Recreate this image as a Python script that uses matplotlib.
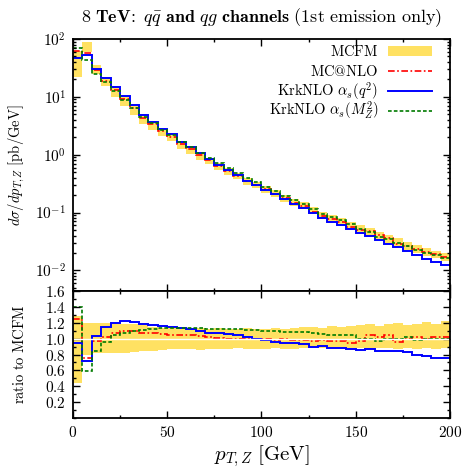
import numpy as np
import matplotlib
matplotlib.use("Agg")
import matplotlib.pyplot as plt
from matplotlib.ticker import FixedLocator, FixedFormatter, MultipleLocator, LogLocator, NullFormatter
from matplotlib.patches import Rectangle
from matplotlib.lines import Line2D

plt.rcParams['mathtext.fontset'] = 'cm'
plt.rcParams['font.family'] = ['DejaVu Serif']

# ---------------- data ----------------
bin_edges = np.arange(0, 205, 5)

mcfm = [49.4, 74.0, 29.7, 18.7, 12.1, 8.4, 5.9, 4.1, 3.15, 2.4,
        1.95, 1.46, 1.20, 0.96, 0.79, 0.63, 0.52, 0.43, 0.35, 0.30,
        0.253, 0.215, 0.177, 0.151, 0.131, 0.107, 0.0896, 0.079, 0.070, 0.060,
        0.052, 0.0455, 0.0396, 0.0344, 0.0299, 0.026, 0.0231, 0.0205, 0.0185, 0.0164]

mcfm_lo = [0.44, 0.80, 0.82, 0.82, 0.82, 0.82, 0.83, 0.84, 0.85, 0.86,
           0.87, 0.87, 0.87, 0.86, 0.87, 0.87, 0.87, 0.88, 0.87, 0.87,
           0.87, 0.88, 0.87, 0.87, 0.88, 0.88, 0.88, 0.87, 0.88, 0.88,
           0.88, 0.87, 0.88, 0.88, 0.87, 0.88, 0.87, 0.88, 0.87, 0.88]
mcfm_hi = [1.28, 1.20, 1.20, 1.20, 1.19, 1.19, 1.18, 1.17, 1.15, 1.14,
           1.13, 1.13, 1.12, 1.13, 1.12, 1.13, 1.12, 1.12, 1.13, 1.12,
           1.12, 1.13, 1.12, 1.14, 1.15, 1.15, 1.14, 1.16, 1.15, 1.16,
           1.17, 1.18, 1.16, 1.18, 1.20, 1.17, 1.19, 1.21, 1.18, 1.22]

ratio_mcatnlo = [1.25, 0.76, 0.97, 1.02, 1.07, 1.09, 1.09, 1.07, 1.07, 1.06,
                 1.05, 1.05, 1.04, 1.03, 1.02, 1.01, 1.00, 0.99, 1.00, 0.99,
                 1.00, 0.98, 0.99, 0.98, 0.98, 0.97, 0.98, 0.97, 0.97, 0.95,
                 0.97, 1.04, 1.02, 1.04, 0.96, 1.00, 1.02, 1.00, 1.02, 1.02]
ratio_krk_q2 = [0.95, 0.72, 1.03, 1.15, 1.20, 1.22, 1.21, 1.19, 1.17, 1.16,
                1.15, 1.14, 1.12, 1.10, 1.07, 1.07, 1.06, 1.04, 1.02, 0.99,
                0.98, 0.96, 0.95, 0.94, 0.93, 0.90, 0.91, 0.88, 0.885, 0.87,
                0.86, 0.865, 0.84, 0.84, 0.84, 0.835, 0.79, 0.78, 0.76, 0.75]
ratio_krk_mz2 = [1.40, 0.59, 0.84, 0.96, 1.05, 1.07, 1.10, 1.11, 1.12, 1.13,
                 1.14, 1.13, 1.13, 1.13, 1.12, 1.12, 1.12, 1.12, 1.11, 1.11,
                 1.09, 1.10, 1.08, 1.08, 1.08, 1.07, 1.06, 1.05, 1.05, 1.04,
                 1.00, 1.00, 0.97, 1.00, 1.00, 1.02, 0.98, 0.99, 0.99, 0.99]

legend_labels = [r"$\mathrm{MCFM}$", r"$\mathrm{MC@NLO}$",
                 r"$\mathrm{KrkNLO}\ \alpha_s(q^2)$", r"$\mathrm{KrkNLO}\ \alpha_s(M_Z^2)$"]
xtick_vals = [0, 50, 100, 150, 200]
xtick_labels = ["0", "50", "100", "150", "200"]
ytick_vals = [1e-2, 1e-1, 1e0, 1e1, 1e2]
ytick_labels = [r"$10^{-2}$", r"$10^{-1}$", r"$10^{0}$", r"$10^{1}$", r"$10^{2}$"]
rtick_vals = [0.2, 0.4, 0.6, 0.8, 1.0, 1.2, 1.4, 1.6]
rtick_labels = ["0.2", "0.4", "0.6", "0.8", "1.0", "1.2", "1.4", "1.6"]

# ---------------- style ----------------
c_band = '#ffe162'
c_red = '#ff0000'
c_blue = '#0000ff'
c_green = '#007a00'
ls_red = (0, (4, 1.5, 1, 1.5))
ls_green = (0, (2.2, 1.3))

mcfm_a = np.array(mcfm)
lo_a = np.array(mcfm_lo)
hi_a = np.array(mcfm_hi)
r_mc = np.array(ratio_mcatnlo)
r_q2 = np.array(ratio_krk_q2)
r_mz = np.array(ratio_krk_mz2)

W, H = 464, 469
fig = plt.figure(figsize=(W / 100, H / 100), dpi=100)
L, R = 73 / W, 450 / W
ax = fig.add_axes([L, 1 - 291 / H, R - L, (291 - 39) / H])
axr = fig.add_axes([L, 1 - 418 / H, R - L, (418 - 291) / H])

def tm(s):
    return "$\\mathrm{" + s.replace(" ", "\\ ") + "}$"

# top panel
ax.stairs(mcfm_a * hi_a, bin_edges, baseline=mcfm_a * lo_a, fill=True, color=c_band, lw=0)
ax.stairs(mcfm_a * r_mc, bin_edges, baseline=None, color=c_red, lw=1.2, ls=ls_red)
ax.stairs(mcfm_a * r_q2, bin_edges, baseline=None, color=c_blue, lw=1.4)
ax.stairs(mcfm_a * r_mz, bin_edges, baseline=None, color=c_green, lw=1.2, ls=ls_green)
ax.set_yscale('log')
ax.set_xlim(0, 200)
ax.set_ylim(0.0044, 100)

# ratio panel
axr.stairs(hi_a, bin_edges, baseline=lo_a, fill=True, color=c_band, lw=0)
axr.axhline(1.0, color='white', lw=1.0)
axr.stairs(r_mc, bin_edges, baseline=None, color=c_red, lw=1.2, ls=ls_red)
axr.stairs(r_q2, bin_edges, baseline=None, color=c_blue, lw=1.4)
axr.stairs(r_mz, bin_edges, baseline=None, color=c_green, lw=1.2, ls=ls_green)
axr.set_xlim(0, 200)
axr.set_ylim(0, 1.6)

tick_fs = 11
for a in (ax, axr):
    a.tick_params(which='both', direction='in', top=True, right=True, width=1.0)
    a.tick_params(which='major', length=5)
    a.tick_params(which='minor', length=2.5)
    a.xaxis.set_major_locator(FixedLocator(xtick_vals))
    a.xaxis.set_minor_locator(MultipleLocator(25))
    for s in a.spines.values():
        s.set_linewidth(1.3)

ax.xaxis.set_major_formatter(NullFormatter())
ax.yaxis.set_major_locator(FixedLocator(ytick_vals))
ax.yaxis.set_major_formatter(FixedFormatter(ytick_labels))
ax.yaxis.set_minor_locator(LogLocator(base=10, subs=np.arange(2, 10)))
ax.yaxis.set_minor_formatter(NullFormatter())

axr.xaxis.set_major_formatter(FixedFormatter([tm(t) for t in xtick_labels]))
axr.yaxis.set_major_locator(FixedLocator(rtick_vals))
axr.yaxis.set_major_formatter(FixedFormatter([tm(t) for t in rtick_labels]))
axr.yaxis.set_minor_locator(MultipleLocator(0.1))

ax.tick_params(axis='y', which='major', labelsize=tick_fs, pad=5)
axr.tick_params(axis='both', which='major', labelsize=tick_fs, pad=5)

ax.set_ylabel(r"$d\sigma/dp_{T,Z}\ \mathrm{[pb/GeV]}$", fontsize=10.5)
axr.set_ylabel(tm("ratio to MCFM"), fontsize=10.5)
axr.set_xlabel(r"$p_{T,Z}\ \mathrm{[GeV]}$", fontsize=15, labelpad=2)
ax.yaxis.set_label_coords(-0.122, 0.5)
axr.yaxis.set_label_coords(-0.122, 0.5)

ax.set_title(r"$\boldsymbol{8}\ \mathbf{TeV}\!\mathbf{:}\ q\bar{q}\ \mathbf{and}\ qg\ \mathbf{channels}\ \mathrm{(1st\ emission\ only)}$",
             fontsize=13, pad=12)

# manual legend (gnuplot style: label right-aligned, sample on the right)
row_px = [51, 71, 91, 111]
x_text = (378 - 73) / 377
x_h0, x_h1 = (388 - 73) / 377, (432 - 73) / 377
def ay(px):
    return 1 - (px - 39) / 252
for i, lab in enumerate(legend_labels):
    yc = ay(row_px[i])
    ax.text(x_text, ay(row_px[i] + 5), lab, transform=ax.transAxes,
            ha='right', va='baseline', fontsize=10.5)
    if i == 0:
        ax.add_patch(Rectangle((x_h0, yc - 5 / 252), x_h1 - x_h0, 10 / 252,
                               transform=ax.transAxes, facecolor=c_band, edgecolor='none'))
    else:
        style = [None, dict(color=c_red, lw=1.2, ls=ls_red),
                 dict(color=c_blue, lw=1.4),
                 dict(color=c_green, lw=1.2, ls=ls_green)][i]
        ax.add_line(Line2D([x_h0, x_h1], [yc, yc], transform=ax.transAxes, **style))

fig.savefig("out.png", dpi=100)
